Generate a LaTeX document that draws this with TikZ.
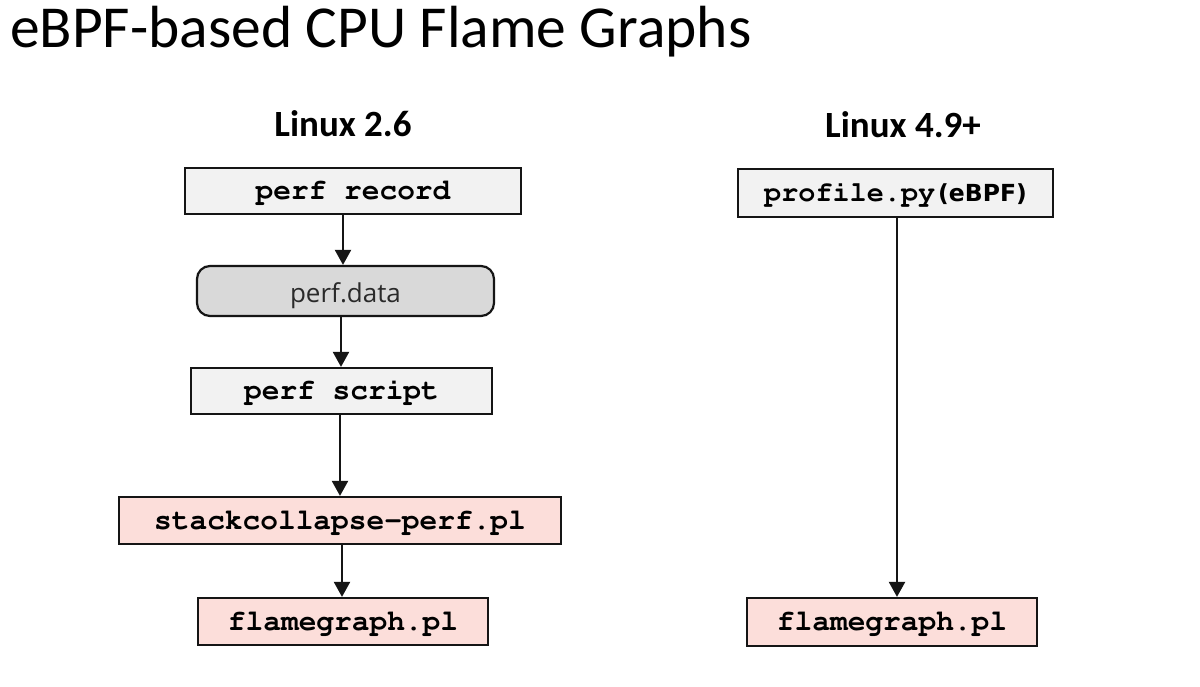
\documentclass[tikz,border=0pt]{standalone}
\usepackage[T1]{fontenc}
\usepackage{fontspec}
\usetikzlibrary{arrows.meta}
\newfontfamily\titlefont{Carlito}
\newcommand\courb{\fontencoding{T1}\fontfamily{pcr}\fontseries{b}\selectfont}
\newfontfamily\datafont{Open Sans}
\newfontfamily\dvfont{DejaVu Sans}
\definecolor{boxgray}{HTML}{F2F2F2}
\definecolor{datagray}{HTML}{D9D9D9}
\definecolor{pinkfill}{HTML}{FCDEDA}
\definecolor{edgecol}{HTML}{151515}
\definecolor{datatext}{HTML}{2A2A2A}
\tikzset{
  codebox/.style={draw=edgecol, line width=2.2pt, inner sep=0pt,
    text height=17pt, text depth=0pt,
    font=\courb\fontsize{29.5}{30}\selectfont},
  graybox/.style={codebox, fill=boxgray},
  pinkbox/.style={codebox, fill=pinkfill},
  databox/.style={draw=edgecol, line width=2.2pt, inner sep=0pt, fill=datagray,
    rounded corners=13pt, text height=22pt, text depth=0pt, text=datatext,
    font=\datafont\fontsize{26}{27}\selectfont},
  oslabel/.style={anchor=base, inner sep=0pt, font=\titlefont\bfseries\fontsize{37}{38}\selectfont},
  arr/.style={draw=edgecol, line width=2.2pt, -{Triangle[length=15pt,width=16pt]}}
}
\begin{document}
\begin{tikzpicture}[x=1pt,y=-1pt]
\useasboundingbox[fill=white] (0,0) rectangle (1200,687);
% title
\node[anchor=base west, inner sep=0pt, font=\titlefont\fontsize{59.5}{61}\selectfont] (title) at (10,48) {eBPF-based CPU Flame Graphs};
% column headings
\node[oslabel] (h1) at (343,137) {Linux 2.6};
\node[oslabel] (h2) at (903,138) {Linux 4.9+};
% left column
\node[graybox, minimum width=336pt, minimum height=46pt] (rec) at (353,191) {perf record};
\node[databox, minimum width=297pt, minimum height=50pt] (data) at (345.5,291) {perf.data};
\node[graybox, minimum width=301pt, minimum height=46pt] (script) at (341.5,391) {perf script};
\node[pinkbox, minimum width=442pt, minimum height=47pt] (stack) at (340,520.5) {stackcollapse-perf.pl};
\node[pinkbox, minimum width=290pt, minimum height=47pt] (flameL) at (343,621.5) {flamegraph.pl};
% right column
\node[graybox, minimum width=315pt, minimum height=48pt] (prof) at (895.5,193)
  {{\fontsize{28.5}{29}\selectfont profile.py}\hspace{3pt}{\dvfont\bfseries\fontsize{23.5}{24}\selectfont (eBPF)}};
\node[pinkbox, minimum width=290pt, minimum height=48pt] (flameR) at (892,622) {flamegraph.pl};
% arrow columns
\coordinate (c1) at (343,0);
\coordinate (c2) at (341,0);
\coordinate (c3) at (340,0);
\coordinate (c4) at (342,0);
\coordinate (c5) at (897,0);
\draw[arr] (c1 |- rec.south) -- (c1 |- data.north);
\draw[arr] (c2 |- data.south) -- (c2 |- script.north);
\draw[arr] (c3 |- script.south) -- (c3 |- stack.north);
\draw[arr] (c4 |- stack.south) -- (c4 |- flameL.north);
\draw[arr] (c5 |- prof.south) -- (c5 |- flameR.north);
\end{tikzpicture}
\end{document}
